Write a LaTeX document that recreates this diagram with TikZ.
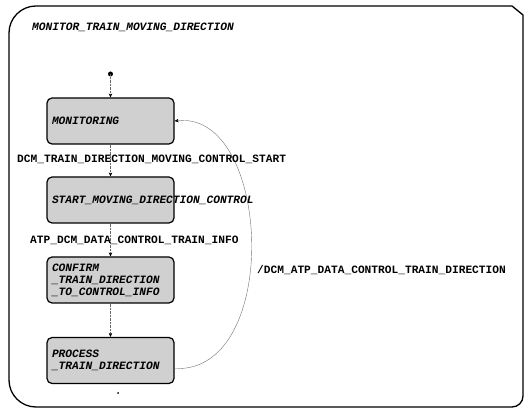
\documentclass[tikz,border=0pt]{standalone}
\usepackage{fontspec}
\setmonofont{Liberation Mono}
\usetikzlibrary{arrows.meta}
\definecolor{stategray}{RGB}{208,208,208}
\newcommand{\drawflow}{\draw[densely dotted, black!60, -{Stealth[length=4pt, width=3.5pt, black]}]}
\tikzset{
    statebox/.style={draw, line width=1.2pt, rounded corners=5pt, fill=stategray,
        minimum height=46pt, text width=117pt, inner xsep=5pt, align=left,
        font=\ttfamily\bfseries\itshape\fontsize{11.2}{12}\selectfont},
    evlabel/.style={anchor=west, inner sep=0pt,
        font=\ttfamily\bfseries\fontsize{11.2}{12}\selectfont}
}

\begin{document}
\begin{tikzpicture}[x=1pt, y=-1pt]
        \useasboundingbox (0,0) rectangle (525,411);

        % Draw frame
        \draw[line width=1.3pt] (9,380) -- (9,33) to[out=90, in=180] (36,6) -- (512,6)
            -- (523,15) -- (523,396) to[out=-90, in=0] (512,407) -- (36,407)
            to[out=180, in=-90] (9,380);
        \node[anchor=west, inner sep=0pt, font=\ttfamily\bfseries\itshape\fontsize{11.2}{12}\selectfont]
            (title) at (32,27) {MONITOR\_TRAIN\_MOVING\_DIRECTION};

        % Draw states
        \coordinate (init) at (110.5,74);
        \fill (init) circle (2.5pt);
        \node[statebox] (monitoring) at (110.5,121) {MONITORING};
        \node[statebox] (startctrl) at (110.5,200) {START\_MOVING\_DIRECTION\_CONTROL};
        \node[statebox] (confirm) at (110.5,280) {CONFIRM\\\_TRAIN\_DIRECTION\\\_TO\_CONTROL\_INFO};
        \node[statebox] (process) at (110.5,360.5) {PROCESS\\\_TRAIN\_DIRECTION};
        \coordinate (procout) at ([yshift=-8pt]process.east);
        \fill (118,393) circle (1pt);

        % Draw transitions
        \drawflow (init) -- (monitoring.north);
        \drawflow (monitoring.south) -- (startctrl.north);
        \drawflow (startctrl.south) -- (confirm.north);
        \drawflow (confirm.south) -- (process.north);
        \draw[black!55, -{Stealth[length=4pt, width=3.5pt, black]}] (procout)
            .. controls (282,374) and (272,110) .. (monitoring.east);

        \node[evlabel] (evstart) at (17,159) {DCM\_TRAIN\_DIRECTION\_MOVING\_CONTROL\_START};
        \node[evlabel] (evinfo) at (30,240) {ATP\_DCM\_DATA\_CONTROL\_TRAIN\_INFO};
        \node[evlabel] (evdir) at (257,270) {/DCM\_ATP\_DATA\_CONTROL\_TRAIN\_DIRECTION};
    \end{tikzpicture}
\end{document}
